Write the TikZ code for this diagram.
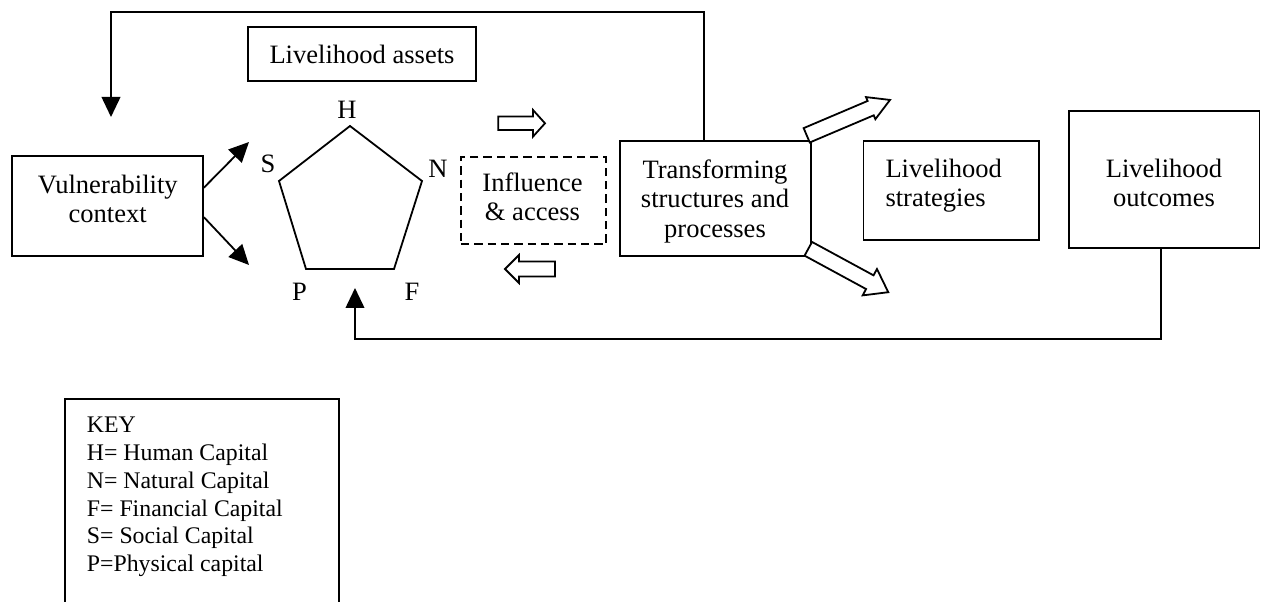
\documentclass[tikz,border=0pt]{standalone}
\usepackage{fontspec}
\setmainfont{Liberation Serif}
\usetikzlibrary{arrows.meta,calc}
\newcommand\mainsize{\fontsize{19.9pt}{22.2pt}\selectfont}
\newcommand\keysize{\fontsize{17.85pt}{20.85pt}\selectfont}
% #1 base point, #2 angle, #3 total length, #4 shaft half width, #5 head half width, #6 head length (px units)
\newcommand\hollowarr[6]{%
  \draw[hollow, shift={(#1)}, rotate=#2]
    (0,-#4) -- ({#3-#6},-#4) -- ({#3-#6},-#5) -- (#3,0) -- ({#3-#6},#5) -- ({#3-#6},#4) -- (0,#4) -- cycle;}
\begin{document}
\begin{tikzpicture}[x=0.75pt,y=-0.75pt,line width=1.35pt,
  box/.style={draw,inner sep=0pt,font=\mainsize},
  txt/.style={inner sep=0pt,align=center,font=\mainsize},
  letter/.style={inner sep=0pt,font=\mainsize},
  arr/.style={-{Triangle[length=15pt,width=14pt]}},
  hollow/.style={draw,fill=white,line width=1.35pt,line join=miter}]
\useasboundingbox (0,0) rectangle (1261,602);

% boxes
\node[box,minimum width=171pt,minimum height=40.5pt] (la) at (362,54) {Livelihood assets};
\node[box,minimum width=143.25pt,minimum height=75pt] (vc) at (107.5,206) {};
\node[txt,anchor=north] (vctext) at (107.7,173.7) {Vulnerability\\context};
\node[box,dash pattern=on 6.25pt off 3.75pt,minimum width=108.75pt,minimum height=65.5pt] (ia) at (533.5,200.7) {};
\node[txt,anchor=north] (iatext) at (532.5,171.7) {Influence\\\& access};
\node[box,minimum width=143.25pt,minimum height=86.25pt] (tsp) at (715.5,198.5) {};
\node[txt,anchor=north] (tsptext) at (715,158.7) {Transforming\\structures and\\processes};
\node[box,minimum width=131.6pt,minimum height=74.25pt] (ls) at (951.3,190.5) {};
\node[txt,align=left,anchor=north west] (lstext) at (884.6,157.7) {Livelihood\\strategies};
\node[box,minimum width=142.9pt,minimum height=102.75pt] (lo) at (1164.2,179.5) {};
\node[txt,anchor=north] (lotext) at (1164,157.7) {Livelihood\\outcomes};

% pentagon
\coordinate (pH) at (350,126);
\coordinate (pN) at (422,181);
\coordinate (pF) at (394,269);
\coordinate (pP) at (306,269);
\coordinate (pS) at (279,181);
\draw[line join=miter] (pH) -- (pN) -- (pF) -- (pP) -- (pS) -- cycle;
\node[letter] (lH) at (347,110) {H};
\node[letter] (lS) at (268,163.5) {S};
\node[letter] (lN) at (438,169) {N};
\node[letter] (lP) at (299.5,291.5) {P};
\node[letter] (lF) at (412,291.5) {F};

% arrows from vulnerability context
\coordinate (tipS) at (249,142);
\coordinate (tipP) at (249,265);
\draw[arr] ($(vc.north east)!0.32!(vc.south east)$) -- (tipS);
\draw[arr] ($(vc.north east)!0.61!(vc.south east)$) -- (tipP);

% feedback loops
\coordinate (fbin) at (111,117);
\coordinate (fbc) at (704,12);
\draw[arr] (tsp.north -| fbc) -- (fbc) -| (fbin);
\coordinate (pin) at (355,288);
\coordinate (bc) at (1161,339);
\draw[arr] (lo.south -| bc) -- (bc) -| (pin);

% hollow arrows
\hollowarr{498.3,123.3}{0}{46.7}{6.7}{13.3}{12}
\hollowarr{555,269}{180}{50}{7.5}{14}{14}
\hollowarr{806.7,135.3}{23}{90.5}{7.8}{12}{21}
\hollowarr{808.3,248.8}{-28.5}{91}{7.8}{15}{21}

% key
\draw (65,602) -- (65,399.3) -- (339.3,399.3) -- (339.3,602);
\node[inner sep=0pt,align=left,anchor=north west,font=\keysize] (key) at (86,416.2)
  {KEY\\H= Human Capital\\N= Natural Capital\\F= Financial Capital\\S= Social Capital\\P=Physical capital};
\end{tikzpicture}
\end{document}
